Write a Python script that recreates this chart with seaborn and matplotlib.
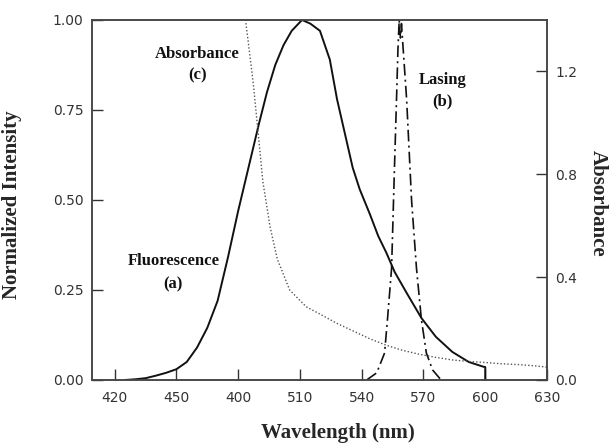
import matplotlib
matplotlib.use("Agg")
import matplotlib.pyplot as plt
import seaborn as sns
from matplotlib.ticker import FormatStrFormatter

# Fluorescence spectrum (a), normalized
fluor_nm = [425, 430, 435, 440, 445, 450, 455, 460, 465, 470, 475, 480, 485, 490,
            494, 498, 502, 506, 511, 515, 519.7, 524.5, 528, 532, 535.6, 539, 544,
            548, 552, 556, 562, 569, 576, 584, 592, 599, 600, 600]
fluor_val = [0.0, 0.002, 0.005, 0.012, 0.02, 0.03, 0.05, 0.09, 0.145, 0.22, 0.34,
             0.47, 0.59, 0.71, 0.80, 0.875, 0.93, 0.97, 1.0, 0.99, 0.97, 0.89, 0.78,
             0.68, 0.59, 0.53, 0.46, 0.40, 0.353, 0.30, 0.24, 0.172, 0.12, 0.078,
             0.05, 0.037, 0.036, 0.0]

# Lasing emission (b), normalized
lasing_nm = [542.4, 547.3, 551.1, 552.6, 554.5, 555.9, 556.9, 557.6, 558.2, 558.8,
             559.3, 560, 561.8, 564.2, 566.6, 569, 571.4, 574.4, 577.8, 579]
lasing_val = [0.0, 0.02, 0.075, 0.175, 0.31, 0.59, 0.78, 0.92, 1.0, 0.95, 0.99,
              0.93, 0.78, 0.50, 0.31, 0.167, 0.075, 0.028, 0.005, 0.0]

# Absorbance spectrum (c), right axis
abs_nm = [482, 484.8, 487.3, 489.7, 492, 495.5, 499, 505, 513, 520, 528, 536, 544,
          552, 560, 568, 576, 584, 592, 600, 608, 616, 624, 630]
abs_val = [1.5, 1.32, 1.155, 0.96, 0.77, 0.595, 0.47, 0.35, 0.285, 0.255, 0.22, 0.19,
           0.16, 0.135, 0.115, 0.10, 0.088, 0.078, 0.072, 0.068, 0.063, 0.06, 0.055,
           0.05]

x_ticks = [420, 450, 480, 510, 540, 570, 600, 630]
x_tick_labels = ["420", "450", "400", "510", "540", "570", "600", "630"]
left_ticks = [0.0, 0.25, 0.5, 0.75, 1.0]
right_ticks = [0.0, 0.4, 0.8, 1.2]

sns.set_theme(style="ticks")
plt.rcParams["font.family"] = ["DejaVu Sans"]

fig = plt.figure(figsize=(6.11, 4.48), dpi=100)
ax = fig.add_axes([0.1506, 0.1518, 0.7447, 0.8036])
ax2 = ax.twinx()

line_kw = dict(estimator=None, sort=False, legend=False)
sns.lineplot(x=fluor_nm, y=fluor_val, ax=ax, color="#111111", linewidth=1.4,
             **line_kw)
sns.lineplot(x=lasing_nm, y=lasing_val, ax=ax, color="#111111", linewidth=1.2,
             linestyle=(0, (7, 2.5, 1.2, 2.5)), **line_kw)
sns.lineplot(x=abs_nm, y=abs_val, ax=ax2, color="#555555", linewidth=1.0,
             linestyle=(0, (1, 1.5)), **line_kw)

ax.set_xlim(409, 630)
ax.set_ylim(0, 1.0)
ax2.set_ylim(0, 1.4)

ax.set_xticks(x_ticks)
ax.set_xticklabels(x_tick_labels)
ax.set_yticks(left_ticks)
ax.yaxis.set_major_formatter(FormatStrFormatter("%.2f"))
ax2.set_yticks(right_ticks)
ax2.yaxis.set_major_formatter(FormatStrFormatter("%.1f"))

for a in (ax, ax2):
    a.tick_params(direction="in", length=8, width=1.0, color="#333333",
                  labelsize=10, labelcolor="#333333", pad=6)
    for s in a.spines.values():
        s.set_linewidth(1.1)
        s.set_color("#444444")
ax.tick_params(axis="x", pad=8)
ax.tick_params(axis="y", right=False)
ax2.tick_params(axis="y", left=False)

label_font = dict(family="Liberation Serif", weight="bold", size=15)
ax.set_xlabel("Wavelength (nm)", va="center", **label_font)
ax.xaxis.set_label_coords(0.540, -0.148)
ax.set_ylabel("Normalized Intensity", **label_font)
ax.yaxis.set_label_coords(-0.153, 0.486)
ax2.set_ylabel("Absorbance", rotation=270, va="center", ha="center", **label_font)
ax2.yaxis.set_label_coords(1.112, 0.49)

note_font = dict(family="Liberation Serif", weight="bold", size=12,
                 ha="center", va="center", color="#111111")
ax.text(460.2, 0.876, "Absorbance\n(c)", linespacing=1.5, **note_font)
ax.text(448.5, 0.299, "Fluorescence\n(a)", linespacing=1.6, **note_font)
ax.text(579.2, 0.804, "Lasing\n(b)", linespacing=1.4, **note_font)

fig.savefig("out.png", dpi=100)
